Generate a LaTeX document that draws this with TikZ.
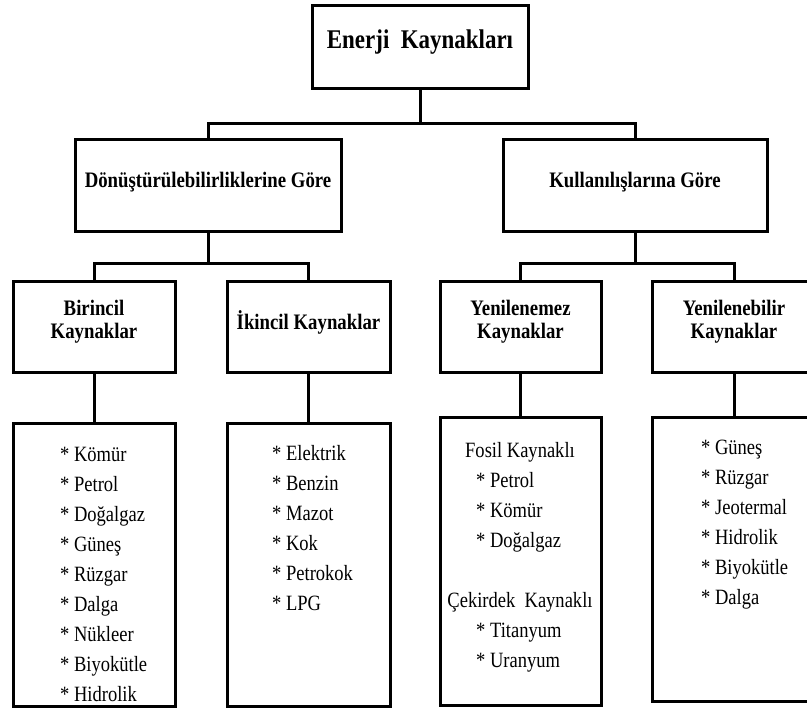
\documentclass[tikz,border=0pt]{standalone}
\usepackage{fontspec}
\setmainfont[FakeStretch=0.85]{Liberation Serif}
\begin{document}
\begin{tikzpicture}[x=1pt,y=-1pt,
  box/.style={draw=black,line width=3pt,fill=white,inner sep=0pt},
  conn/.style={draw=black,line width=3pt},
  hdr/.style={font=\fontsize{22.1}{23}\selectfont\bfseries,align=center,inner sep=0pt},
  ttl/.style={font=\fontsize{27}{30}\selectfont\bfseries,inner sep=0pt},
  item/.style={font=\fontsize{21.8}{24}\selectfont,anchor=base west,inner sep=0pt},
  citem/.style={font=\fontsize{21.8}{24}\selectfont,anchor=base,inner sep=0pt}]
\useasboundingbox[fill=white] (0,0) rectangle (807,708);
% boxes
\node[box,minimum width=216pt,minimum height=83pt] (top) at (420,47.5) {};
\node[box,minimum width=266pt,minimum height=92pt] (don) at (208,186) {};
\node[box,minimum width=264pt,minimum height=92pt] (kul) at (635,186) {};
\node[box,minimum width=162pt,minimum height=91pt] (bir) at (94,327.5) {};
\node[box,minimum width=163pt,minimum height=91pt] (iki) at (308.5,327.5) {};
\node[box,minimum width=161pt,minimum height=91pt] (yem) at (520.5,327.5) {};
\node[box,minimum width=164pt,minimum height=91pt] (yeb) at (734,327.5) {};
\node[box,minimum width=162pt,minimum height=283pt] (birl) at (94,565.5) {};
\node[box,minimum width=163pt,minimum height=283pt] (ikil) at (308.5,565.5) {};
\node[box,minimum width=161pt,minimum height=288pt] (yeml) at (520.5,562) {};
\node[box,minimum width=164pt,minimum height=284pt] (yebl) at (734,560) {};
% connectors
\draw[conn] (top.south) -- ++(0,33) -| (don.north);
\draw[conn] (top.south) -- ++(0,33) -| (kul.north);
\draw[conn] (don.south) -- ++(0,30) -| (bir.north);
\draw[conn] (don.south) -- ++(0,30) -| (iki.north);
\draw[conn] (kul.south) -- ++(0,30) -| (yem.north);
\draw[conn] (kul.south) -- ++(0,30) -| (yeb.north);
\draw[conn] (bir.south) -- (birl.north);
\draw[conn] (iki.south) -- (ikil.north);
\draw[conn] (yem.south) -- (yeml.north);
\draw[conn] (yeb.south) -- (yebl.north);
% header texts
\node[ttl] (ttop) at (420,42) {Enerji\ \ Kaynakları};
\node[hdr] (tdon) at (208,182) {Dönüştürülebilirliklerine Göre};
\node[hdr] (tkul) at (635,182) {Kullanılışlarına Göre};
\node[hdr] (tbir) at (94,322) {Birincil\\Kaynaklar};
\node[hdr] (tiki) at (308.5,322) {İkincil Kaynaklar};
\node[hdr] (tyem) at (520.5,322) {Yenilenemez\\Kaynaklar};
\node[hdr] (tyeb) at (734,322) {Yenilenebilir\\Kaynaklar};
% lists
\foreach \t [count=\i from 0] in {Kömür,Petrol,Doğalgaz,Güneş,Rüzgar,Dalga,Nükleer,Biyokütle,Hidrolik}
  \node[item] (b\i) at (60,462+30*\i) {* \t};
\foreach \t [count=\i from 0] in {Elektrik,Benzin,Mazot,Kok,Petrokok,LPG}
  \node[item] (k\i) at (272,461+30*\i) {* \t};
\node[citem] (fos) at (520,458) {Fosil Kaynaklı};
\foreach \t [count=\i from 1] in {Petrol,Kömür,Doğalgaz}
  \node[item] (f\i) at (476,458+30*\i) {* \t};
\node[citem] (cek) at (520,608) {Çekirdek\ \ Kaynaklı};
\foreach \t [count=\i from 1] in {Titanyum,Uranyum}
  \node[item] (c\i) at (476,608+30*\i) {* \t};
\foreach \t [count=\i from 0] in {Güneş,Rüzgar,Jeotermal,Hidrolik,Biyokütle,Dalga}
  \node[item] (y\i) at (701,455+30*\i) {* \t};
\end{tikzpicture}
\end{document}
